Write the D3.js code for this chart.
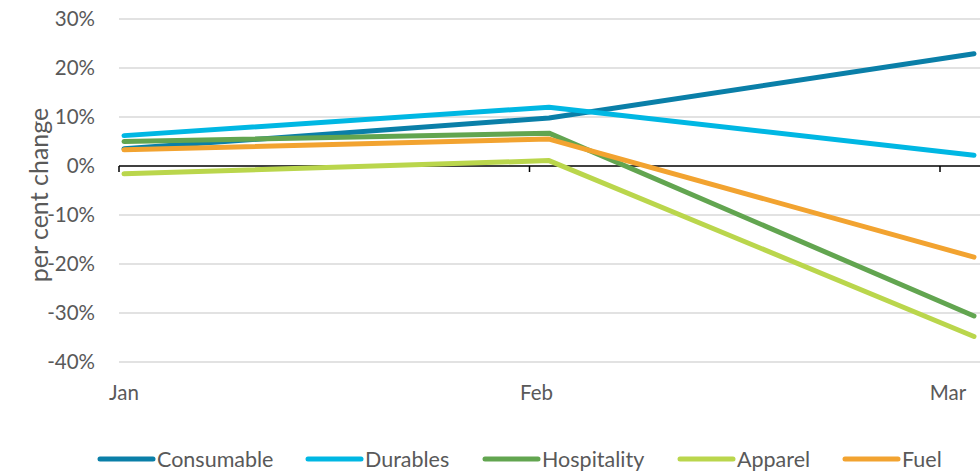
<!DOCTYPE html>
<html><head><meta charset="utf-8">
<script src="https://cdn.jsdelivr.net/npm/d3@7"></script>
<style>body{margin:0;background:#fff}svg{display:block}text{font-family:Lato,"Open Sans",sans-serif;fill:#595959}</style>
</head><body><svg id="c" width="980" height="472"></svg>
<script>
const months = ["Jan","Feb","Mar"];
const seriesNames = ["Consumable","Durables","Hospitality","Apparel","Fuel"];
const consumable = [3.5, 9.8, 22.9];
const durables = [6.2, 12.0, 2.2];
const hospitality = [5.0, 6.7, -30.6];
const apparel = [-1.6, 1.1, -34.8];
const fuel = [3.3, 5.5, -18.6];
const yTicks = [30,20,10,0,-10,-20,-30,-40];
const colors = ["#0a7fa8","#00b7e3","#62a550","#bad64c","#f2a330"];
const seriesValues = [consumable, durables, hospitality, apparel, fuel];

const svg = d3.select("#c");
const y = d3.scaleLinear().domain([-40,30]).range([362,19]);
const x = d3.scalePoint().domain(months).range([124,974]);
const xTick = d3.scalePoint().domain(months).range([119,940]);

// gridlines
svg.append("g").selectAll("line").data(yTicks.filter(d=>d!==0)).join("line")
  .attr("x1",119).attr("x2",980).attr("y1",d=>y(d)).attr("y2",d=>y(d))
  .attr("stroke","#d9d9d9").attr("stroke-width",1.5);

// y labels
svg.append("g").selectAll("text").data(yTicks).join("text")
  .attr("x",95).attr("y",d=>y(d)+7).attr("text-anchor","end")
  .attr("font-size",20.5).text(d=>d+"%");

// zero axis
svg.append("line").attr("x1",119).attr("x2",980).attr("y1",y(0)).attr("y2",y(0))
  .attr("stroke","#000").attr("stroke-width",1.5);
svg.append("g").selectAll("line").data(months).join("line")
  .attr("x1",d=>xTick(d)).attr("x2",d=>xTick(d)).attr("y1",y(0)).attr("y2",y(0)+6)
  .attr("stroke","#000").attr("stroke-width",1.5);

// x labels
svg.append("g").selectAll("text").data(months).join("text")
  .attr("x",(d,i)=>xTick(d)+[5,7,8][i]).attr("y",400).attr("text-anchor","middle")
  .attr("font-size",20.5).text(d=>d);

// y title
svg.append("text").attr("transform","translate(48,195) rotate(-90)")
  .attr("text-anchor","middle").attr("font-size",25).text("per cent change");

// lines
const line = d3.line().x((d,i)=>x(months[i])).y(d=>y(d));
svg.append("g").selectAll("path").data(seriesValues).join("path")
  .attr("d",line).attr("fill","none").attr("stroke",(d,i)=>colors[i])
  .attr("stroke-width",5).attr("stroke-linecap","round").attr("stroke-linejoin","round");

// legend
const legX = [100,308,485,680,845];
const lg = svg.append("g").selectAll("g").data(seriesNames).join("g")
  .attr("transform",(d,i)=>`translate(${legX[i]},459)`);
lg.append("line").attr("x1",0).attr("x2",53).attr("stroke",(d,i)=>colors[i])
  .attr("stroke-width",5).attr("stroke-linecap","round");
lg.append("text").attr("x",57).attr("y",7.5).attr("font-size",21.5).text(d=>d);
</script></body></html>
